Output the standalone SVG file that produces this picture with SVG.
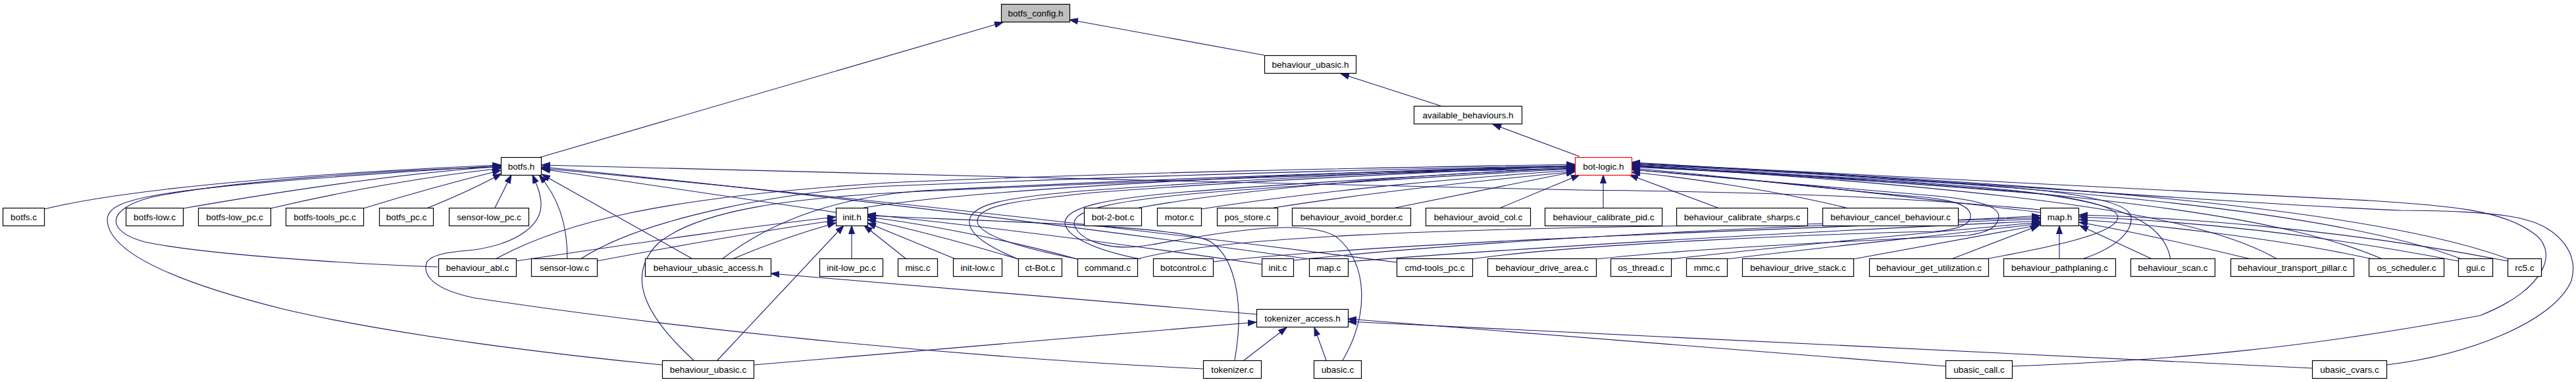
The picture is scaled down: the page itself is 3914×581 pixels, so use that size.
<svg xmlns="http://www.w3.org/2000/svg" width="3914" height="581" viewBox="0 0 3914 581">
<style>
.n rect{fill:#fff;stroke:#000;stroke-width:1.2}
.n text{font-family:"Liberation Sans",Arial,sans-serif;font-size:13.5px;text-anchor:middle;fill:#000}
.e path{fill:none;stroke:#191970;stroke-width:1.1;marker-end:url(#a)}
</style>
<defs>
<marker id="a" markerWidth="14" markerHeight="11" refX="13" refY="5" orient="auto" markerUnits="userSpaceOnUse"><path d="M0,0.5 L13,5 L0,9.5 z" fill="#191970" stroke="#191970" stroke-width="1"/></marker>
</defs>
<rect width="3914" height="581" fill="#fff"/>
<g id="edges" class="e">
<path d="M818,240 L1524,34"/>
<path d="M1921,84 L1625,30"/>
<path d="M2189,161 L2037,112"/>
<path d="M2400,238 L2268,189"/>
<path d="M67,318 C200,285 500,262 761,251"/>
<path d="M278,317 C450,287 620,263 761,253"/>
<path d="M411,317 C520,291 650,268 761,256"/>
<path d="M552,317 C620,296 700,274 761,259"/>
<path d="M648,317 C690,300 730,282 762,264"/>
<path d="M665,406 C500,400 300,385 220,368 C160,352 160,318 230,300 C350,275 600,258 761,254"/>
<path d="M1006,555 C850,540 600,510 430,470 C250,425 165,380 163,335 C162,300 230,285 761,252"/>
<path d="M1828,561 C1400,540 1000,495 720,453 C660,440 642,420 648,400 C655,385 690,383 720,380 C790,370 823,340 822,310 C822,295 815,280 809,266"/>
<path d="M752,316 L777,266"/>
<path d="M862,393 C862,340 848,300 819,266"/>
<path d="M1051,393 L823,265"/>
<path d="M1270,323 L823,257"/>
<path d="M3100,319 C2900,300 2700,292 2400,289 C1900,280 1300,262 823,251"/>
<path d="M1990,394 C1600,340 1200,290 823,254"/>
<path d="M2122,399 C1700,345 1250,295 823,256"/>
<path d="M784,397 C1000,365 1150,343 1270,330"/>
<path d="M907,397 C1050,370 1180,348 1270,335"/>
<path d="M1115,393 C1170,370 1230,350 1270,339"/>
<path d="M1294,394 L1294,343"/>
<path d="M1090,548 L1282,343"/>
<path d="M1377,394 L1313,343"/>
<path d="M1452,394 L1318,339"/>
<path d="M1547,394 C1450,365 1370,345 1318,334"/>
<path d="M1637,394 C1520,362 1400,340 1318,330"/>
<path d="M1917,402 C1700,370 1500,345 1318,326"/>
<path d="M1876,548 C1890,470 1880,395 1840,368 C1800,345 1600,340 1318,328"/>
<path d="M1312,316 C1500,285 2000,262 2393,252"/>
<path d="M753,394 C850,340 1000,300 1350,278 C1700,262 2100,255 2393,250"/>
<path d="M882,394 C980,330 1200,290 1350,283 C1800,265 2100,257 2393,252"/>
<path d="M1097,394 C1180,330 1280,300 1400,290 C1800,270 2100,260 2393,254"/>
<path d="M1054,548 C980,480 950,420 1000,370 C1060,320 1200,300 1400,291 C1800,273 2100,262 2393,256"/>
<path d="M1730,316 C1900,285 2200,262 2393,256"/>
<path d="M1825,318 C2000,290 2250,268 2393,259"/>
<path d="M1935,316 C2100,290 2300,270 2393,261"/>
<path d="M2120,316 L2393,261"/>
<path d="M2280,316 L2400,266"/>
<path d="M2436,316 L2436,266"/>
<path d="M2610,316 L2476,266"/>
<path d="M2805,316 C2700,290 2550,268 2479,262"/>
<path d="M3100,323 C2900,300 2700,275 2479,258"/>
<path d="M1547,394 C1500,375 1470,355 1473,335 C1476,310 1530,300 1650,290 C1900,272 2200,258 2393,252"/>
<path d="M1637,394 C1540,375 1483,355 1485,335 C1488,312 1545,305 1660,293 C1900,275 2200,260 2393,253"/>
<path d="M1733,394 C1660,380 1618,358 1618,338 C1620,315 1680,302 1800,292 C1980,278 2250,262 2393,255"/>
<path d="M2040,548 C2080,480 2080,400 2030,360 C1980,330 1850,355 1750,372 C1680,385 1635,362 1632,340 C1630,318 1700,305 1820,294 C2000,280 2250,264 2393,257"/>
<path d="M2237,394 C2400,370 2800,355 2940,352 C2990,348 2995,335 2994,327 C2992,310 2960,302 2900,298 C2750,285 2600,265 2479,256"/>
<path d="M2425,394 C2600,375 2900,363 2990,358 C3030,352 3037,340 3037,328 C3035,312 3000,303 2930,297 C2780,285 2600,268 2479,258"/>
<path d="M3017,394 C3120,375 3218,355 3218,330 C3215,305 3080,288 2900,277 C2700,266 2550,258 2479,251"/>
<path d="M3164,394 C3220,375 3240,350 3238,330 C3235,300 3100,285 2900,275 C2700,265 2550,258 2479,253"/>
<path d="M3298,394 C3290,350 3250,315 3100,295 C2900,278 2650,262 2479,254"/>
<path d="M3460,394 C3350,330 3100,290 2479,252"/>
<path d="M3620,394 C3450,320 3100,285 2479,251"/>
<path d="M3740,394 C3550,320 3100,280 2479,250"/>
<path d="M3812,394 C3600,315 3100,278 2479,249"/>
<path d="M3057,557 C3300,548 3500,530 3768,480 C3870,440 3890,380 3847,353 C3800,320 3728,313 3600,305 C3200,285 2800,262 2479,248"/>
<path d="M3626,555 C3750,540 3880,490 3907,427 C3920,380 3880,345 3840,335 C3800,322 3700,320 3648,320 C3400,310 2900,270 2479,247"/>
<path d="M2048,398 C2400,370 2800,350 3100,336"/>
<path d="M1965,396 C2300,360 2800,340 3100,331"/>
<path d="M1728,394 C1850,360 2200,348 2600,343 C2800,341 3000,335 3100,328"/>
<path d="M1843,398 C2100,370 2600,352 3100,333"/>
<path d="M2539,394 C2750,370 2950,352 3100,338"/>
<path d="M2624,394 C2800,372 2980,355 3100,340"/>
<path d="M2816,394 C2950,370 3050,352 3100,342"/>
<path d="M2965,394 L3098,343"/>
<path d="M3129,394 L3129,343"/>
<path d="M3270,394 L3160,343"/>
<path d="M3420,394 C3300,365 3200,345 3159,338"/>
<path d="M3605,394 C3450,360 3250,340 3159,334"/>
<path d="M3735,397 C3500,352 3300,335 3159,330"/>
<path d="M3810,397 C3550,347 3300,330 3159,327"/>
<path d="M1909,478 L1171,416"/>
<path d="M1145,555 L1909,490"/>
<path d="M1890,548 L1955,498"/>
<path d="M2015,548 L1997,498"/>
<path d="M2956,557 L2048,485"/>
<path d="M3513,560 C3300,549 2700,518 2048,489"/>
</g>
<g id="n_botfs_config_h" class="n"><rect x="1521.5" y="6.5" width="104" height="27" style="fill:#bfbfbf"/><text x="1573.5" y="24.5">botfs_config.h</text></g>
<g id="n_behaviour_ubasic_h" class="n"><rect x="1921.5" y="84.5" width="139" height="27"/><text x="1991" y="102.5">behaviour_ubasic.h</text></g>
<g id="n_available_behaviours_h" class="n"><rect x="2148.5" y="161.5" width="164" height="27"/><text x="2230.5" y="179.5">available_behaviours.h</text></g>
<g id="n_botfs_h" class="n"><rect x="761.5" y="239.5" width="61" height="27"/><text x="792" y="257.5">botfs.h</text></g>
<g id="n_bot_logic_h" class="n"><rect x="2393.5" y="239.5" width="86" height="27" style="stroke:#ff0000"/><text x="2436.5" y="257.5">bot-logic.h</text></g>
<g id="n_botfs_c" class="n"><rect x="4.5" y="316.5" width="63" height="27"/><text x="36" y="334.5">botfs.c</text></g>
<g id="n_botfs_low_c" class="n"><rect x="191.5" y="316.5" width="87" height="27"/><text x="235" y="334.5">botfs-low.c</text></g>
<g id="n_botfs_low_pc_c" class="n"><rect x="301.5" y="316.5" width="110" height="27"/><text x="356.5" y="334.5">botfs-low_pc.c</text></g>
<g id="n_botfs_tools_pc_c" class="n"><rect x="434.5" y="316.5" width="118" height="27"/><text x="493.5" y="334.5">botfs-tools_pc.c</text></g>
<g id="n_botfs_pc_c" class="n"><rect x="576.5" y="316.5" width="82" height="27"/><text x="617.5" y="334.5">botfs_pc.c</text></g>
<g id="n_sensor_low_pc_c" class="n"><rect x="682.5" y="316.5" width="121" height="27"/><text x="743" y="334.5">sensor-low_pc.c</text></g>
<g id="n_init_h" class="n"><rect x="1270.5" y="316.5" width="48" height="27"/><text x="1294.5" y="334.5">init.h</text></g>
<g id="n_bot_2_bot_c" class="n"><rect x="1647.5" y="316.5" width="87" height="27"/><text x="1691" y="334.5">bot-2-bot.c</text></g>
<g id="n_motor_c" class="n"><rect x="1758.5" y="316.5" width="67" height="27"/><text x="1792" y="334.5">motor.c</text></g>
<g id="n_pos_store_c" class="n"><rect x="1849.5" y="316.5" width="92" height="27"/><text x="1895.5" y="334.5">pos_store.c</text></g>
<g id="n_behaviour_avoid_border_c" class="n"><rect x="1963.5" y="316.5" width="180" height="27"/><text x="2053.5" y="334.5">behaviour_avoid_border.c</text></g>
<g id="n_behaviour_avoid_col_c" class="n"><rect x="2166.5" y="316.5" width="159" height="27"/><text x="2246" y="334.5">behaviour_avoid_col.c</text></g>
<g id="n_behaviour_calibrate_pid_c" class="n"><rect x="2347.5" y="316.5" width="178" height="27"/><text x="2436.5" y="334.5">behaviour_calibrate_pid.c</text></g>
<g id="n_behaviour_calibrate_sharps_c" class="n"><rect x="2547.5" y="316.5" width="199" height="27"/><text x="2647" y="334.5">behaviour_calibrate_sharps.c</text></g>
<g id="n_behaviour_cancel_behaviour_c" class="n"><rect x="2769.5" y="316.5" width="206" height="27"/><text x="2872.5" y="334.5">behaviour_cancel_behaviour.c</text></g>
<g id="n_map_h" class="n"><rect x="3100.5" y="316.5" width="58" height="27"/><text x="3129.5" y="334.5">map.h</text></g>
<g id="n_behaviour_abl_c" class="n"><rect x="666.5" y="393.5" width="118" height="27"/><text x="725.5" y="411.5">behaviour_abl.c</text></g>
<g id="n_sensor_low_c" class="n"><rect x="807.5" y="393.5" width="100" height="27"/><text x="857.5" y="411.5">sensor-low.c</text></g>
<g id="n_behaviour_ubasic_access_h" class="n"><rect x="980.5" y="393.5" width="191" height="27"/><text x="1076" y="411.5">behaviour_ubasic_access.h</text></g>
<g id="n_init_low_pc_c" class="n"><rect x="1245.5" y="393.5" width="96" height="27"/><text x="1293.5" y="411.5">init-low_pc.c</text></g>
<g id="n_misc_c" class="n"><rect x="1364.5" y="393.5" width="60" height="27"/><text x="1394.5" y="411.5">misc.c</text></g>
<g id="n_init_low_c" class="n"><rect x="1448.5" y="393.5" width="74" height="27"/><text x="1485.5" y="411.5">init-low.c</text></g>
<g id="n_ct_Bot_c" class="n"><rect x="1547.5" y="393.5" width="66" height="27"/><text x="1580.5" y="411.5">ct-Bot.c</text></g>
<g id="n_command_c" class="n"><rect x="1637.5" y="393.5" width="91" height="27"/><text x="1683" y="411.5">command.c</text></g>
<g id="n_botcontrol_c" class="n"><rect x="1752.5" y="393.5" width="91" height="27"/><text x="1798" y="411.5">botcontrol.c</text></g>
<g id="n_init_c" class="n"><rect x="1917.5" y="393.5" width="48" height="27"/><text x="1941.5" y="411.5">init.c</text></g>
<g id="n_map_c" class="n"><rect x="1989.5" y="393.5" width="59" height="27"/><text x="2019" y="411.5">map.c</text></g>
<g id="n_cmd_tools_pc_c" class="n"><rect x="2122.5" y="393.5" width="115" height="27"/><text x="2180" y="411.5">cmd-tools_pc.c</text></g>
<g id="n_behaviour_drive_area_c" class="n"><rect x="2260.5" y="393.5" width="165" height="27"/><text x="2343" y="411.5">behaviour_drive_area.c</text></g>
<g id="n_os_thread_c" class="n"><rect x="2447.5" y="393.5" width="92" height="27"/><text x="2493.5" y="411.5">os_thread.c</text></g>
<g id="n_mmc_c" class="n"><rect x="2562.5" y="393.5" width="62" height="27"/><text x="2593.5" y="411.5">mmc.c</text></g>
<g id="n_behaviour_drive_stack_c" class="n"><rect x="2647.5" y="393.5" width="169" height="27"/><text x="2732" y="411.5">behaviour_drive_stack.c</text></g>
<g id="n_behaviour_get_utilization_c" class="n"><rect x="2840.5" y="393.5" width="181" height="27"/><text x="2931" y="411.5">behaviour_get_utilization.c</text></g>
<g id="n_behaviour_pathplaning_c" class="n"><rect x="3044.5" y="393.5" width="170" height="27"/><text x="3129.5" y="411.5">behaviour_pathplaning.c</text></g>
<g id="n_behaviour_scan_c" class="n"><rect x="3237.5" y="393.5" width="128" height="27"/><text x="3301.5" y="411.5">behaviour_scan.c</text></g>
<g id="n_behaviour_transport_pillar_c" class="n"><rect x="3389.5" y="393.5" width="187" height="27"/><text x="3483" y="411.5">behaviour_transport_pillar.c</text></g>
<g id="n_os_scheduler_c" class="n"><rect x="3599.5" y="393.5" width="114" height="27"/><text x="3656.5" y="411.5">os_scheduler.c</text></g>
<g id="n_gui_c" class="n"><rect x="3735.5" y="393.5" width="52" height="27"/><text x="3761.5" y="411.5">gui.c</text></g>
<g id="n_rc5_c" class="n"><rect x="3810.5" y="393.5" width="51" height="27"/><text x="3836" y="411.5">rc5.c</text></g>
<g id="n_tokenizer_access_h" class="n"><rect x="1909.5" y="470.5" width="139" height="27"/><text x="1979" y="488.5">tokenizer_access.h</text></g>
<g id="n_behaviour_ubasic_c" class="n"><rect x="1006.5" y="548.5" width="139" height="27"/><text x="1076" y="566.5">behaviour_ubasic.c</text></g>
<g id="n_tokenizer_c" class="n"><rect x="1828.5" y="548.5" width="88" height="27"/><text x="1872.5" y="566.5">tokenizer.c</text></g>
<g id="n_ubasic_c" class="n"><rect x="1996.5" y="548.5" width="72" height="27"/><text x="2032.5" y="566.5">ubasic.c</text></g>
<g id="n_ubasic_call_c" class="n"><rect x="2956.5" y="548.5" width="101" height="27"/><text x="3007" y="566.5">ubasic_call.c</text></g>
<g id="n_ubasic_cvars_c" class="n"><rect x="3513.5" y="548.5" width="113" height="27"/><text x="3570" y="566.5">ubasic_cvars.c</text></g>
</svg>
